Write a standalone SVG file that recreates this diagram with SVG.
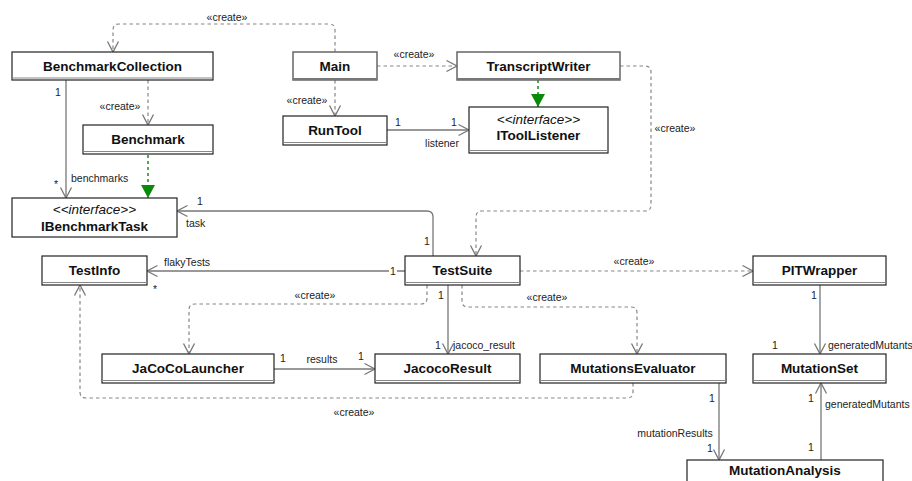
<svg xmlns="http://www.w3.org/2000/svg" width="912" height="481" viewBox="0 0 912 481">
<style>
.box{fill:#fff;stroke:#222;stroke-width:1.2}
.boxg{fill:#fff;stroke:#666;stroke-width:1.5}
.sep{stroke:#888;stroke-width:1.2}
.name{font-family:"Liberation Sans",Arial,sans-serif;font-weight:bold;font-size:13.5px;fill:#111;text-anchor:middle}
.stereo{font-family:"Liberation Sans",Arial,sans-serif;font-style:italic;font-size:13.5px;fill:#111;text-anchor:middle}
.lbl{font-family:"Liberation Sans",Arial,sans-serif;font-size:10.5px;fill:#222}
.mid{text-anchor:middle}
.solid{fill:none;stroke:#777;stroke-width:1.3}
.dash{fill:none;stroke:#888;stroke-width:1.2;stroke-dasharray:3.5,3}
.real{fill:none;stroke:#1a8a1a;stroke-width:1.5;stroke-dasharray:3,3}
</style>
<defs>
<marker id="open" markerUnits="userSpaceOnUse" markerWidth="12" markerHeight="12" refX="11" refY="6" orient="auto" overflow="visible">
<path d="M0.5,0.5 L11,6 L0.5,11.5" fill="none" stroke="#777" stroke-width="1.3"/>
</marker>
<marker id="tri" markerUnits="userSpaceOnUse" markerWidth="13" markerHeight="14" refX="13" refY="7" orient="auto" overflow="visible">
<path d="M0,0 L13,7 L0,14 Z" fill="#0a8a0a"/>
</marker>
</defs>
<rect width="912" height="481" fill="#fff"/>

<g id="connectors">
<path class="dash" d="M335,52 V30 Q335,24 329,24 H119 Q113,24 113,30 V52" marker-end="url(#open)"/>
<path class="dash" d="M148,80 V125" marker-end="url(#open)"/>
<path class="real" d="M148,155 V198" marker-end="url(#tri)"/>
<path class="solid" d="M66,80 V198" marker-end="url(#open)"/>
<path class="dash" d="M377,66 H457" marker-end="url(#open)"/>
<path class="dash" d="M335,80 V116" marker-end="url(#open)"/>
<path class="real" d="M538,80 V107" marker-end="url(#tri)"/>
<path class="solid" d="M387,130 H469" marker-end="url(#open)"/>
<path class="dash" d="M620,66 H645 Q651,66 651,72 V205 Q651,211 645,211 H482 Q476,211 476,217 V256" marker-end="url(#open)"/>
<path class="solid" d="M433,256 V217 Q433,211 427,211 H177" marker-end="url(#open)"/>
<path class="solid" d="M405,271 H147" marker-end="url(#open)"/>
<path class="dash" d="M520,271 H753" marker-end="url(#open)"/>
<path class="dash" d="M427,285 V298 Q427,304 421,304 H195 Q189,304 189,310 V354" marker-end="url(#open)"/>
<path class="solid" d="M448,285 V354" marker-end="url(#open)"/>
<path class="dash" d="M462,285 V301 Q462,307 468,307 H631 Q637,307 637,313 V354" marker-end="url(#open)"/>
<path class="dash" d="M633,383 V392 Q633,398 627,398 H86 Q80,398 80,392 V285" marker-end="url(#open)"/>
<path class="solid" d="M274,369 H375" marker-end="url(#open)"/>
<path class="solid" d="M820,285 V354" marker-end="url(#open)"/>
<path class="solid" d="M719,383 V460" marker-end="url(#open)"/>
<path class="solid" d="M821,460 V383" marker-end="url(#open)"/>

<text class="lbl mid" x="227" y="21">«create»</text>
<text class="lbl mid" x="120" y="110">«create»</text>
<text class="lbl" x="55" y="96">1</text>
<text class="lbl" x="54" y="188">*</text>
<text class="lbl" x="71" y="182">benchmarks</text>
<text class="lbl mid" x="414" y="58">«create»</text>
<text class="lbl mid" x="307" y="104">«create»</text>
<text class="lbl" x="395" y="126">1</text>
<text class="lbl" x="451" y="126">1</text>
<text class="lbl mid" x="442" y="147">listener</text>
<text class="lbl mid" x="675" y="132">«create»</text>
<text class="lbl" x="197" y="205">1</text>
<text class="lbl" x="186" y="227">task</text>
<text class="lbl" x="424" y="245">1</text>
<text class="lbl" x="164" y="266">flakyTests</text>
<text class="lbl" x="153" y="293">*</text>
<rect x="389" y="265" width="8" height="12" fill="#fff"/>
<text class="lbl" x="390" y="275">1</text>
<text class="lbl mid" x="634" y="265">«create»</text>
<text class="lbl mid" x="315" y="299">«create»</text>
<text class="lbl" x="438" y="299">1</text>
<text class="lbl mid" x="547" y="301">«create»</text>
<text class="lbl" x="435" y="349">1</text>
<text class="lbl" x="453" y="349">jacoco_result</text>
<text class="lbl" x="280" y="362">1</text>
<text class="lbl mid" x="322" y="363">results</text>
<text class="lbl" x="358" y="360">1</text>
<text class="lbl mid" x="354" y="416">«create»</text>
<text class="lbl" x="811" y="299">1</text>
<text class="lbl" x="772" y="349">1</text>
<text class="lbl" x="828" y="349">generatedMutants</text>
<text class="lbl" x="709" y="402">1</text>
<text class="lbl mid" x="675" y="437">mutationResults</text>
<text class="lbl" x="707" y="452">1</text>
<text class="lbl" x="808" y="451">1</text>
<text class="lbl" x="808" y="402">1</text>
<text class="lbl" x="825" y="408">generatedMutants</text>
</g>

<g id="BenchmarkCollection">
<rect class="box" x="12" y="52" width="201" height="28"/>
<line class="sep" x1="12" y1="78" x2="213" y2="78"/>
<text class="name" x="112.5" y="71">BenchmarkCollection</text>
</g>
<g id="Benchmark">
<rect class="box" x="83" y="125" width="130" height="29"/>
<line class="sep" x1="83" y1="151.5" x2="213" y2="151.5"/>
<text class="name" x="148" y="144">Benchmark</text>
</g>
<g id="IBenchmarkTask">
<rect class="box" x="12" y="198" width="165" height="39"/>
<text class="stereo" x="94.5" y="214">&lt;&lt;interface&gt;&gt;</text>
<text class="name" x="94.5" y="231">IBenchmarkTask</text>
</g>
<g id="Main">
<rect class="boxg" x="293" y="52" width="84" height="28"/>
<line x1="293" y1="79" x2="377" y2="79" stroke="#777" stroke-width="2"/>
<text class="name" x="335" y="71">Main</text>
</g>
<g id="TranscriptWriter">
<rect class="boxg" x="457" y="52" width="163" height="28"/>
<line x1="457" y1="79" x2="620" y2="79" stroke="#777" stroke-width="2"/>
<text class="name" x="538.5" y="71">TranscriptWriter</text>
</g>
<g id="RunTool">
<rect class="box" x="283" y="116" width="104" height="29"/>
<line class="sep" x1="283" y1="142.5" x2="387" y2="142.5"/>
<text class="name" x="335" y="135">RunTool</text>
</g>
<g id="IToolListener">
<rect class="box" x="469" y="107" width="139" height="46"/>
<line class="sep" x1="469" y1="150.5" x2="608" y2="150.5"/>
<text class="stereo" x="538.5" y="124">&lt;&lt;interface&gt;&gt;</text>
<text class="name" x="538.5" y="140">IToolListener</text>
</g>
<g id="TestInfo">
<rect class="box" x="42" y="256" width="105" height="29"/>
<line class="sep" x1="42" y1="282.5" x2="147" y2="282.5"/>
<text class="name" x="94.5" y="275">TestInfo</text>
</g>
<g id="TestSuite">
<rect class="box" x="405" y="256" width="115" height="29"/>
<line class="sep" x1="405" y1="282.5" x2="520" y2="282.5"/>
<text class="name" x="462.5" y="275">TestSuite</text>
</g>
<g id="PITWrapper">
<rect class="box" x="753" y="256" width="133" height="29"/>
<line class="sep" x1="753" y1="282.5" x2="886" y2="282.5"/>
<text class="name" x="819.5" y="275">PITWrapper</text>
</g>
<g id="JaCoCoLauncher">
<rect class="box" x="102" y="354" width="172" height="29"/>
<line class="sep" x1="102" y1="380.5" x2="274" y2="380.5"/>
<text class="name" x="188" y="373">JaCoCoLauncher</text>
</g>
<g id="JacocoResult">
<rect class="box" x="375" y="354" width="145" height="29"/>
<line class="sep" x1="375" y1="380.5" x2="520" y2="380.5"/>
<text class="name" x="447.5" y="373">JacocoResult</text>
</g>
<g id="MutationsEvaluator">
<rect class="box" x="540" y="354" width="186" height="29"/>
<line class="sep" x1="540" y1="380.5" x2="726" y2="380.5"/>
<text class="name" x="633" y="373">MutationsEvaluator</text>
</g>
<g id="MutationSet">
<rect class="box" x="753" y="354" width="133" height="29"/>
<line class="sep" x1="753" y1="380.5" x2="886" y2="380.5"/>
<text class="name" x="819.5" y="373">MutationSet</text>
</g>
<g id="MutationAnalysis">
<rect class="box" x="687" y="460" width="196" height="30"/>
<text class="name" x="785" y="475">MutationAnalysis</text>
</g>
</svg>
